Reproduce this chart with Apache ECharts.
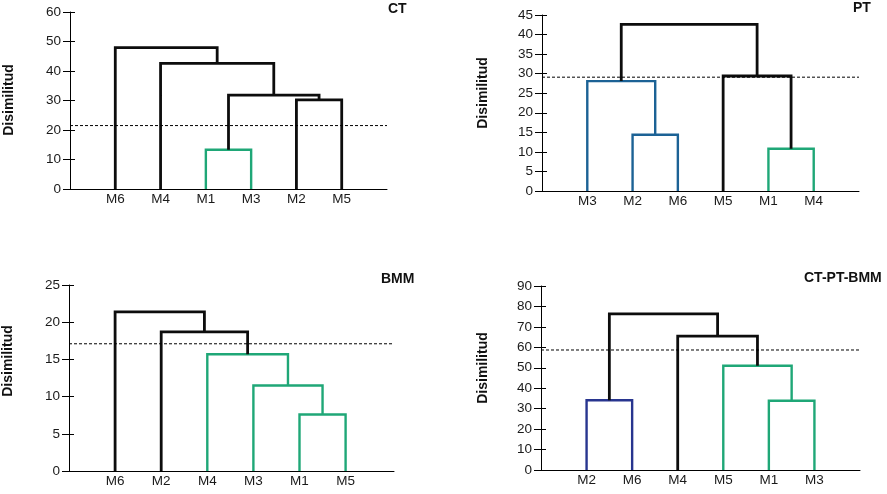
<!DOCTYPE html>
<html><head><meta charset="utf-8">
<script src="https://cdn.jsdelivr.net/npm/echarts@6/dist/echarts.min.js"></script>
<style>html,body{margin:0;padding:0;background:#fff}#c{width:887px;height:494px}</style>
</head><body><div id="c"></div>
<script>
// ---- CT ----
const ctLeaves  = ['M6','M4','M1','M3','M2','M5'];
const ctLeft    = ['M1','M2','C1','M4','M6'];
const ctRight   = ['M3','M5','C2','C3','C4'];
const ctHeights = [13.3, 30.2, 31.8, 42.6, 47.9];
const ctCut = 21.5;
const ctYMax = 60, ctYStep = 10;
// ---- PT ----
const ptLeaves  = ['M3','M2','M6','M5','M1','M4'];
const ptLeft    = ['M2','M3','M1','M5','C2'];
const ptRight   = ['M6','C1','M4','C3','C4'];
const ptHeights = [14.4, 28.1, 10.8, 29.4, 42.6];
const ptCut = 29.1;
const ptYMax = 45, ptYStep = 5;
// ---- BMM ----
const bmmLeaves  = ['M6','M2','M4','M3','M1','M5'];
const bmmLeft    = ['M1','M3','M4','M2','M6'];
const bmmRight   = ['M5','C1','C2','C3','C4'];
const bmmHeights = [7.6, 11.5, 15.7, 18.7, 21.4];
const bmmCut = 17.1;
const bmmYMax = 25, bmmYStep = 5;
// ---- CT-PT-BMM ----
const allLeaves  = ['M2','M6','M4','M5','M1','M3'];
const allLeft    = ['M2','M1','M5','M4','C1'];
const allRight   = ['M6','M3','C2','C3','C4'];
const allHeights = [34.1, 33.9, 51.0, 65.5, 76.4];
const allCut = 58.7;
const allYMax = 90, allYStep = 10;

// styles (separate from data)
const GREEN = '#1fa777', BLUE = '#1c6295', NAVY = '#28358f', BLACK = '#0d0d0d';
const panels = [
  {title:'CT', leaves:ctLeaves, left:ctLeft, right:ctRight, h:ctHeights, cut:ctCut, ymax:ctYMax, ystep:ctYStep,
   colors:[GREEN,BLACK,BLACK,BLACK,BLACK], grid:{left:70,top:12,width:317,height:177}, xmax:7,
   titlePos:[388,9], namePos:[9,100]},
  {title:'PT', leaves:ptLeaves, left:ptLeft, right:ptRight, h:ptHeights, cut:ptCut, ymax:ptYMax, ystep:ptYStep,
   colors:[BLUE,BLUE,GREEN,BLACK,BLACK], grid:{left:542,top:15,width:317,height:176}, xmax:7,
   titlePos:[853,8], namePos:[483,93]},
  {title:'BMM', leaves:bmmLeaves, left:bmmLeft, right:bmmRight, h:bmmHeights, cut:bmmCut, ymax:bmmYMax, ystep:bmmYStep,
   colors:[GREEN,GREEN,GREEN,BLACK,BLACK], grid:{left:69,top:285,width:325,height:186}, xmax:7.05,
   titlePos:[381,279], namePos:[8,361]},
  {title:'CT-PT-BMM', leaves:allLeaves, left:allLeft, right:allRight, h:allHeights, cut:allCut, ymax:allYMax, ystep:allYStep,
   colors:[NAVY,GREEN,GREEN,BLACK,BLACK], grid:{left:541,top:286,width:319,height:184}, xmax:7,
   titlePos:[804,278], namePos:[483,368]}
];

const FONT = '"Liberation Sans", Arial, sans-serif';
const grids = [], xAxes = [], yAxes = [], series = [], graphics = [];
const N = panels.length;

panels.forEach((p, gi) => {
  grids.push(Object.assign({containLabel:false}, p.grid));
  const leaves = p.leaves;
  xAxes.push({
    type:'value', gridIndex:gi, min:0, max:p.xmax, interval:1,
    axisLine:{show:true, onZero:false, lineStyle:{color:'#000', width:1}},
    axisTick:{show:false}, splitLine:{show:false},
    axisLabel:{color:'#1a1a1a', fontFamily:FONT, fontSize:13.5, margin:3,
      showMinLabel:true, showMaxLabel:true,
      formatter: v => (Number.isInteger(v) && v >= 1 && v <= leaves.length) ? leaves[v-1] : ''}
  });
  yAxes.push({
    type:'value', gridIndex:gi, min:0, max:p.ymax, interval:p.ystep,
    axisLine:{show:true, onZero:false, lineStyle:{color:'#000', width:1}},
    axisTick:{show:true, length:7, lineStyle:{color:'#000', width:1}},
    splitLine:{show:false},
    axisLabel:{color:'#1a1a1a', fontFamily:FONT, fontSize:13.5, margin:9}
  });

  // node coordinates
  const pos = {};
  leaves.forEach((n, i) => { pos[n] = [i + 1, 0]; });
  p.h.forEach((hh, k) => {
    const a = pos[p.left[k]], b = pos[p.right[k]];
    pos['C' + (k + 1)] = [(a[0] + b[0]) / 2, hh];
    series.push({
      type:'line', xAxisIndex:gi, yAxisIndex:gi, symbol:'none', silent:true, animation:false,
      data:[[a[0], a[1]], [a[0], hh], [b[0], hh], [b[0], b[1]]],
      lineStyle:{color:p.colors[k], width:p.colors[k] === BLACK ? 2.8 : 2.4, join:'miter', cap:'butt'},
      z: p.colors[k] === BLACK ? 3 : 2
    });
  });
  // cut line (bound to the auxiliary y axis, which has identical scale)
  series.push({
    type:'line', xAxisIndex:gi, yAxisIndex:N + gi, symbol:'none', silent:true, animation:false,
    data:[[0, p.cut], [p.xmax, p.cut]],
    lineStyle:{color:'#000', width:1, type:[3,2]}, z:4
  });

  graphics.push({type:'text', x:p.titlePos[0], y:p.titlePos[1],
    style:{text:p.title, font:'bold 14px ' + FONT, fill:'#111', textAlign:'left', textVerticalAlign:'middle'}});
  graphics.push({type:'text', x:p.namePos[0], y:p.namePos[1], rotation:Math.PI/2,
    style:{text:'Disimilitud', font:'bold 14px ' + FONT, fill:'#111', textAlign:'center', textVerticalAlign:'middle'}});
});

// auxiliary axes: short tick stubs on the inner side of each y axis
panels.forEach((p, gi) => {
  yAxes.push({
    type:'value', gridIndex:gi, min:0, max:p.ymax, interval:p.ystep, position:'left', offset:0,
    axisLine:{show:false, onZero:false}, axisLabel:{show:false}, splitLine:{show:false},
    axisTick:{show:true, inside:true, length:5, lineStyle:{color:'#000', width:1}}
  });
});

const chart = echarts.init(document.getElementById('c'), null, {renderer:'canvas'});
chart.setOption({
  animation:false, backgroundColor:'#fff',
  grid:grids, xAxis:xAxes, yAxis:yAxes, series:series, graphic:graphics
});
</script></body></html>
